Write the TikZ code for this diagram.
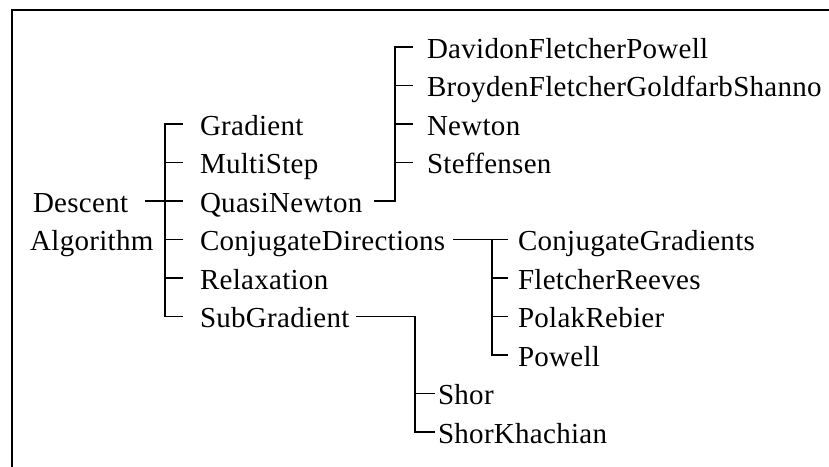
\documentclass[tikz,border=0pt]{standalone}
\usepackage{fontspec}
\setmainfont[LetterSpace=1.0]{Liberation Serif}
\begin{document}
\begin{tikzpicture}[x=1pt,y=-1pt,
  lbl/.style={font=\fontsize{29}{34}\selectfont, inner sep=0pt,
              text height=24pt, text depth=2pt, anchor=west},
  gapA/.style={outer xsep=17pt},
  gapB/.style={outer xsep=14pt},
  gapC/.style={outer xsep=10pt},
  gapD/.style={outer xsep=3pt},
  wire/.style={line width=1.2pt},
  frame/.style={line width=2pt}]
\useasboundingbox (0,0) rectangle (829,466);
\clip (0,0) rectangle (829,466);

% outer frame (open to the right and bottom)
\draw[frame] (12,480) -- (12,10) -- (840,10);

% root
\node[lbl,gapA] (descent) at (16,201) {Descent};
\node[lbl] (algo) at (30,239.5) {Algorithm};

% first level
\node[lbl,gapA] (grad) at (183,124)   {Gradient};
\node[lbl,gapA] (ms)   at (183,162.5) {MultiStep};
\node[lbl,gapA] (qn)   at (183,201)   {QuasiNewton};
\node[lbl,gapA] (cd)   at (183,239.5) {ConjugateDirections};
\node[lbl,gapA] (rel)  at (183,278)   {Relaxation};
\node[lbl,gapA] (sg)   at (183,316.5) {SubGradient};

% quasi-Newton methods
\node[lbl,gapB] (dfp)    at (413,47)    {DavidonFletcherPowell};
\node[lbl,gapB] (bfgs)   at (413,85.5)  {BroydenFletcherGoldfarbShanno};
\node[lbl,gapB] (newton) at (413,124)   {Newton};
\node[lbl,gapB] (steff)  at (413,162.5) {Steffensen};

% conjugate direction methods
\node[lbl,gapC] (cg) at (508,239.5) {ConjugateGradients};
\node[lbl,gapC] (fr) at (508,278)   {FletcherReeves};
\node[lbl,gapC] (pr) at (508,316.5) {PolakRebier};
\node[lbl,gapC] (pw) at (508,355)   {Powell};

% subgradient methods
\node[lbl,gapD] (shor) at (435,393.5) {Shor};
\node[lbl,gapD] (sk)   at (435,432)   {ShorKhachian};

% connectors: root to first level
\draw[wire] (descent.east) -- (qn.west);
\draw[wire] (grad.west) -- ++(-18,0) |- (sg.west);
\foreach \n in {ms,cd,rel} \draw[wire] (\n.west) -- ++(-18,0);

% quasi-Newton branch
\draw[wire] ([xshift=-5pt]qn.east) -| ([xshift=-18pt]dfp.west) -- (dfp.west);
\foreach \n in {bfgs,newton,steff} \draw[wire] (\n.west) -- ++(-18,0);

% conjugate directions branch
\draw[wire] ([xshift=-9pt]cd.east) -- (cg.west);
\draw[wire] ([xshift=-16pt]cg.west) |- (pw.west);
\foreach \n in {fr,pr} \draw[wire] (\n.west) -- ++(-16,0);

% subgradient branch
\draw[wire] ([xshift=-10pt]sg.east) -| ([xshift=-20pt]sk.west) -- (sk.west);
\draw[wire] (shor.west) -- ++(-20,0);
\end{tikzpicture}
\end{document}
